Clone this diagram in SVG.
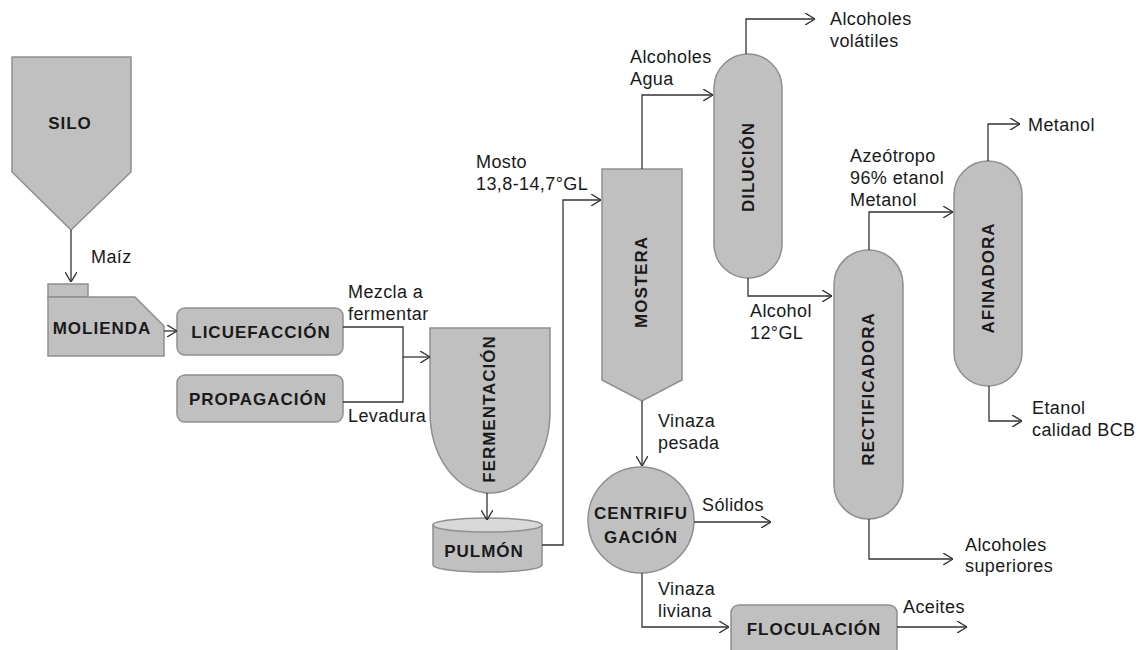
<svg xmlns="http://www.w3.org/2000/svg" width="1145" height="650" viewBox="0 0 1145 650">
  <style>
    .unit { fill: #c0c0c0; stroke: #8f8f8f; stroke-width: 1.5; }
    .lid { fill: #d9d9d9; stroke: #8f8f8f; stroke-width: 1.5; }
    .lbl { font-family: "Liberation Sans", Arial, sans-serif; font-weight: bold; font-size: 17px; letter-spacing: 1px; fill: #1a1a1a; text-anchor: middle; }
    .note { font-family: "Liberation Sans", Arial, sans-serif; font-size: 18px; letter-spacing: 0.4px; fill: #1a1a1a; }
    .flow { fill: none; stroke: #333; stroke-width: 1.3; marker-end: url(#arr); }
    .flow-plain { fill: none; stroke: #333; stroke-width: 1.3; }
  </style>
  <defs>
    <marker id="arr" viewBox="0 0 10 12" refX="10" refY="6" markerWidth="10" markerHeight="12" markerUnits="userSpaceOnUse" orient="auto">
      <path d="M0,0 L10,6 L0,12" fill="none" stroke="#333" stroke-width="1.4"/>
    </marker>
  </defs>
  <rect width="1145" height="650" fill="#ffffff"/>

  <!-- Process units -->
  <g id="silo">
    <path class="unit" d="M12,57 H131 V172 L71,230 L12,172 Z"/>
    <text class="lbl" x="70" y="129">SILO</text>
  </g>
  <g id="molienda">
    <rect class="unit" x="48" y="284" width="40" height="13"/>
    <path class="unit" d="M48,297 H135 L164,326 V356 H48 Z"/>
    <text class="lbl" x="102" y="334">MOLIENDA</text>
  </g>
  <g id="licuefaccion">
    <rect class="unit" x="177" y="308" width="166" height="47" rx="8"/>
    <text class="lbl" x="261" y="338">LICUEFACCIÓN</text>
  </g>
  <g id="propagacion">
    <rect class="unit" x="177" y="375" width="166" height="47" rx="8"/>
    <text class="lbl" x="258" y="405">PROPAGACIÓN</text>
  </g>
  <g id="fermentacion">
    <path class="unit" d="M430,328 H550 V412 A60,81 0 0 1 430,412 Z"/>
    <text class="lbl" transform="translate(495,409) rotate(-90)">FERMENTACIÓN</text>
  </g>
  <g id="pulmon">
    <path class="unit" d="M433,525 V565 A54.5,7 0 0 0 542,565 V525 Z"/>
    <ellipse class="lid" cx="487.5" cy="525" rx="54.5" ry="7"/>
    <text class="lbl" x="484" y="557">PULMÓN</text>
  </g>
  <g id="mostera">
    <path class="unit" d="M602,169 H682 V380 L642,401 L602,380 Z"/>
    <text class="lbl" transform="translate(647,282) rotate(-90)">MOSTERA</text>
  </g>
  <g id="dilucion">
    <rect class="unit" x="714" y="54" width="68" height="224" rx="34" ry="34"/>
    <text class="lbl" transform="translate(754,167) rotate(-90)">DILUCIÓN</text>
  </g>
  <g id="rectificadora">
    <rect class="unit" x="834" y="250" width="69" height="269" rx="34.5" ry="34.5"/>
    <text class="lbl" transform="translate(874,389) rotate(-90)">RECTIFICADORA</text>
  </g>
  <g id="afinadora">
    <rect class="unit" x="954" y="161" width="68" height="225" rx="34" ry="34"/>
    <text class="lbl" transform="translate(994,278) rotate(-90)">AFINADORA</text>
  </g>
  <g id="centrifugacion">
    <circle class="unit" cx="641" cy="520" r="53"/>
    <text class="lbl" x="641" y="519">CENTRIFU</text>
    <text class="lbl" x="641" y="543">GACIÓN</text>
  </g>
  <g id="floculacion">
    <rect class="unit" x="731" y="605" width="166" height="52" rx="8"/>
    <text class="lbl" x="814" y="635">FLOCULACIÓN</text>
  </g>

  <!-- Streams between units -->
  <g id="connectors">
    <path class="flow" d="M71,230 V282"/>
    <path class="flow" d="M164,331 H177"/>
    <path class="flow-plain" d="M343,327 H403 V402 H343"/>
    <path class="flow" d="M403,357 H430"/>
    <path class="flow" d="M487,493 V520"/>
    <path class="flow" d="M542,545 H563 V200 H601"/>
    <path class="flow" d="M642,169 V95 H713"/>
    <path class="flow" d="M746,54 V19 H815"/>
    <path class="flow" d="M748,278 V296 H832"/>
    <path class="flow" d="M869,250 V212 H953"/>
    <path class="flow" d="M869,519 V559 H953"/>
    <path class="flow" d="M988,161 V124 H1020"/>
    <path class="flow" d="M989,386 V421 H1022"/>
    <path class="flow" d="M642,401 V466"/>
    <path class="flow" d="M694,522 H771"/>
    <path class="flow" d="M642,573 V627 H729"/>
    <path class="flow" d="M897,627 H967"/>
  </g>

  <!-- Stream labels -->
  <g id="stream-labels">
    <text class="note" x="91" y="263">Maíz</text>
    <text class="note" x="348" y="298">Mezcla a</text>
    <text class="note" x="348" y="320">fermentar</text>
    <text class="note" x="348" y="422">Levadura</text>
    <text class="note" x="476" y="168">Mosto</text>
    <text class="note" x="476" y="190">13,8-14,7°GL</text>
    <text class="note" x="630" y="63">Alcoholes</text>
    <text class="note" x="630" y="85">Agua</text>
    <text class="note" x="830" y="25">Alcoholes</text>
    <text class="note" x="830" y="47">volátiles</text>
    <text class="note" x="750" y="317">Alcohol</text>
    <text class="note" x="750" y="339">12°GL</text>
    <text class="note" x="850" y="162">Azeótropo</text>
    <text class="note" x="850" y="184">96% etanol</text>
    <text class="note" x="850" y="206">Metanol</text>
    <text class="note" x="1028" y="131">Metanol</text>
    <text class="note" x="1032" y="414">Etanol</text>
    <text class="note" x="1032" y="436">calidad BCB</text>
    <text class="note" x="965" y="551">Alcoholes</text>
    <text class="note" x="965" y="572">superiores</text>
    <text class="note" x="658" y="427">Vinaza</text>
    <text class="note" x="658" y="449">pesada</text>
    <text class="note" x="702" y="511">Sólidos</text>
    <text class="note" x="658" y="595">Vinaza</text>
    <text class="note" x="658" y="617">liviana</text>
    <text class="note" x="903" y="613">Aceites</text>
  </g>
</svg>
